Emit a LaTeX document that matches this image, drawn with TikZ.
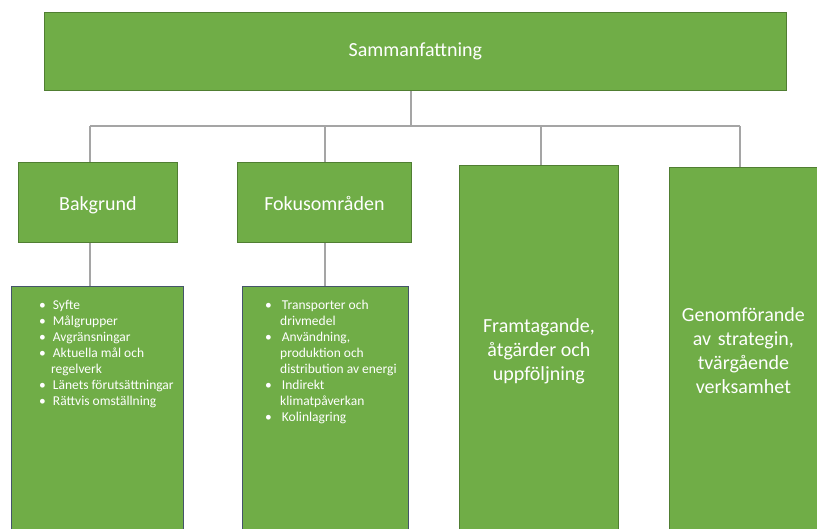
\documentclass[tikz,border=0pt]{standalone}
\usepackage{fontspec}
\setmainfont{Carlito}
\definecolor{boxgreen}{HTML}{70AD47}
\definecolor{boxedge}{HTML}{507E32}
\definecolor{listedge}{HTML}{44546A}
\definecolor{linegray}{HTML}{A5A5A5}
\newenvironment{bulletlist}[3]{\begin{minipage}[t]{#1pt}\begin{list}{\textbullet}{\setlength\leftmargin{#2pt}\setlength\labelwidth{5pt}\setlength\labelsep{#3pt}\setlength\itemsep{0pt}\setlength\parsep{0pt}\setlength\topsep{0pt}\setlength\partopsep{0pt}}}{\end{list}\end{minipage}}
\begin{document}
\begin{tikzpicture}[x=1pt,y=-1pt,
  gbox/.style={draw=boxedge,line width=0.8pt,fill=boxgreen,text=white,inner sep=0pt,anchor=north west,font=\fontsize{20}{24}\selectfont,align=center},
  lbox/.style={draw=listedge,line width=0.8pt,fill=boxgreen,inner sep=0pt,anchor=north west},
  items/.style={text=white,inner sep=0pt,anchor=north west,font=\fontsize{13.5}{16}\selectfont,align=left},
  conn/.style={draw=linegray,line width=1.6pt}]
\useasboundingbox (0,0) rectangle (817,529);
\clip (0,0) rectangle (817,529);
% boxes
\node[gbox,minimum width=742pt,minimum height=78pt] (top) at (44,12) {Sammanfattning};
\node[gbox,minimum width=159pt,minimum height=80pt,text height=20pt,text depth=4pt] (bak) at (18,162) {Bakgrund};
\node[gbox,minimum width=174pt,minimum height=80pt,text height=20pt,text depth=4pt] (fok) at (237,162) {Fokusområden};
\node[gbox,minimum width=159pt,minimum height=372pt] (fram) at (459,165) {Framtagande,\\åtgärder och\\uppföljning};
\node[gbox,minimum width=160pt,minimum height=370pt,text width=160pt] (gen) at (669,167) {\hspace*{-12pt}\begin{tabular}{@{}c@{}}Genomförande\\av strategin,\\tvärgående\\verksamhet\end{tabular}};
\node[lbox,minimum width=172pt,minimum height=260pt] (bglist) at (11,286) {};
\node[lbox,minimum width=166pt,minimum height=260pt] (foklist) at (242,286) {};
% list texts
\node[items] (bgitems) at (39,300) {\begin{bulletlist}{140}{12}{7}
\item Syfte
\item Målgrupper
\item Avgränsningar
\item Aktuella mål och\\regelverk
\item Länets förutsättningar
\item Rättvis omställning
\end{bulletlist}};
\node[items] (fokitems) at (265,300) {\begin{bulletlist}{140}{15}{10}
\item Transporter och\\drivmedel
\item Användning,\\produktion och\\distribution av energi
\item Indirekt\\klimatpåverkan
\item Kolinlagring
\end{bulletlist}};
% connectors
\coordinate (j) at (411,126);
\coordinate (d1) at (90,126);
\coordinate (d2) at (325,126);
\coordinate (d3) at (541,126);
\coordinate (d4) at (740,126);
\draw[conn] (top.south -| j) -- (j);
\draw[conn] (d1) -- (d4);
\draw[conn] (d1) -- (bak.north -| d1);
\draw[conn] (d2) -- (fok.north -| d2);
\draw[conn] (d3) -- (fram.north -| d3);
\draw[conn] (d4) -- (gen.north -| d4);
\draw[conn] (bak.south -| d1) -- (bglist.north -| d1);
\draw[conn] (fok.south -| d2) -- (foklist.north -| d2);
\end{tikzpicture}
\end{document}
